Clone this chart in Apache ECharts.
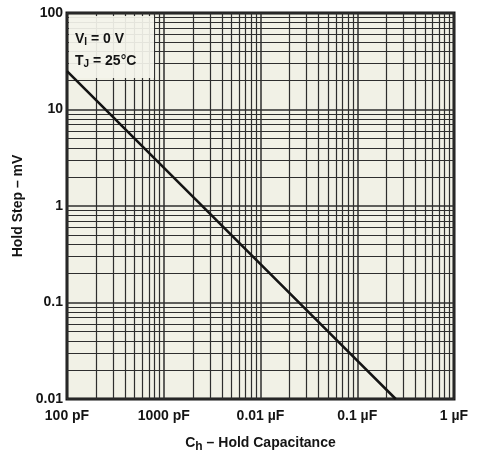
<!DOCTYPE html>
<html>
<head>
<meta charset="utf-8">
<script src="https://cdn.jsdelivr.net/npm/echarts@6/dist/echarts.min.js"></script>
<style>
  html, body { margin: 0; padding: 0; background: #ffffff; }
  #chart { width: 478px; height: 451px; }
</style>
</head>
<body>
<div id="chart"></div>
<script>
// Hold step vs. hold capacitance (capacitance in pF, step in mV)
const capacitancePF = [100, 1000, 10000, 100000, 250000];
const holdStepMV = [25, 2.5, 0.25, 0.025, 0.01];

// Axis tick labels
const xTickValues = [100, 1000, 10000, 100000, 1000000];
const xTickLabels = ['100 pF', '1000 pF', '0.01 \u00B5F', '0.1 \u00B5F', '1 \u00B5F'];
const yTickValues = [0.01, 0.1, 1, 10, 100];
const yTickLabels = ['0.01', '0.1', '1', '10', '100'];

// Log-paper minor rulings inside each decade
const xDecades = [100, 1000, 10000, 100000];
const yDecades = [0.01, 0.1, 1, 10];
const minorSteps = [2, 3, 4, 5, 6, 7, 8, 9];

const FONT = '"Liberation Sans", Arial, Helvetica, sans-serif';
const INK = '#141414';
const RULE = '#2e2e2e';

const gridLines = [];
xDecades.forEach(d => minorSteps.forEach(m => gridLines.push({ xAxis: d * m })));
yDecades.forEach(d => minorSteps.forEach(m => gridLines.push({ yAxis: d * m })));

function labelFor(values, labels) {
  return v => {
    for (let i = 0; i < values.length; i++) {
      if (Math.abs(Math.log10(v) - Math.log10(values[i])) < 1e-6) return labels[i];
    }
    return '';
  };
}

const chart = echarts.init(document.getElementById('chart'), null, { renderer: 'canvas' });

chart.setOption({
  animation: false,
  backgroundColor: '#ffffff',
  grid: {
    left: 67, top: 13, right: 24, bottom: 52,
    containLabel: false,
    outerBoundsMode: 'none',
    show: true,
    backgroundColor: '#f1f1e6',
    borderColor: INK,
    borderWidth: 3
  },
  xAxis: {
    type: 'log',
    logBase: 10,
    min: 100,
    max: 1000000,
    axisLine: { show: false },
    axisTick: { show: false },
    axisLabel: {
      formatter: labelFor(xTickValues, xTickLabels),
      fontFamily: FONT,
      fontWeight: 'bold',
      fontSize: 14,
      color: INK,
      margin: 10,
      showMinLabel: true,
      showMaxLabel: true
    },
    splitLine: { show: true, lineStyle: { color: RULE, width: 1.5 } },
    name: '{c|C}{s|h}{c| \u2013 Hold Capacitance}',
    nameLocation: 'middle',
    nameGap: 34,
    nameTextStyle: {
      rich: {
        c: { fontFamily: FONT, fontWeight: 'bold', fontSize: 14, color: INK },
        s: { fontFamily: FONT, fontWeight: 'bold', fontSize: 12, color: INK, padding: [8, 0, 0, 0] }
      }
    }
  },
  yAxis: {
    type: 'log',
    logBase: 10,
    min: 0.01,
    max: 100,
    axisLine: { show: false },
    axisTick: { show: false },
    axisLabel: {
      formatter: labelFor(yTickValues, yTickLabels),
      fontFamily: FONT,
      fontWeight: 'bold',
      fontSize: 14,
      color: INK,
      margin: 4,
      showMinLabel: true,
      showMaxLabel: true
    },
    splitLine: { show: true, lineStyle: { color: RULE, width: 1.5 } },
    name: 'Hold Step \u2013 mV',
    nameLocation: 'middle',
    nameGap: 42,
    nameTextStyle: { fontFamily: FONT, fontWeight: 'bold', fontSize: 14, color: INK }
  },
  series: [
    {
      type: 'line',
      data: [],
      z: 1,
      silent: true,
      markLine: {
        silent: true,
        symbol: 'none',
        animation: false,
        label: { show: false },
        emphasis: { disabled: true },
        lineStyle: { color: RULE, width: 1.2, type: 'solid' },
        data: gridLines
      }
    },
    {
      type: 'line',
      z: 200,
      data: capacitancePF.map((c, i) => [c, holdStepMV[i]]),
      showSymbol: false,
      smooth: false,
      lineStyle: { color: INK, width: 2.6 }
    }
  ],
  graphic: {
    elements: [
      {
        type: 'rect',
        z: 100,
        shape: { x: 69, y: 16, width: 85, height: 62 },
        style: { fill: '#f4f4eb', opacity: 0.92 }
      },
      {
        type: 'text',
        z: 101,
        left: 75,
        top: 32,
        style: {
          text: '{b|V}{s|I}{b| = 0 V}',
          rich: {
            b: { fontFamily: FONT, fontWeight: 'bold', fontSize: 14, fill: INK },
            s: { fontFamily: FONT, fontWeight: 'bold', fontSize: 10, fill: INK, padding: [6, 0, 0, 0] }
          }
        }
      },
      {
        type: 'text',
        z: 101,
        left: 75,
        top: 54,
        style: {
          text: '{b|T}{s|J}{b| = 25\u00B0C}',
          rich: {
            b: { fontFamily: FONT, fontWeight: 'bold', fontSize: 14, fill: INK },
            s: { fontFamily: FONT, fontWeight: 'bold', fontSize: 10, fill: INK, padding: [6, 0, 0, 0] }
          }
        }
      }
    ]
  }
});
</script>
</body>
</html>
